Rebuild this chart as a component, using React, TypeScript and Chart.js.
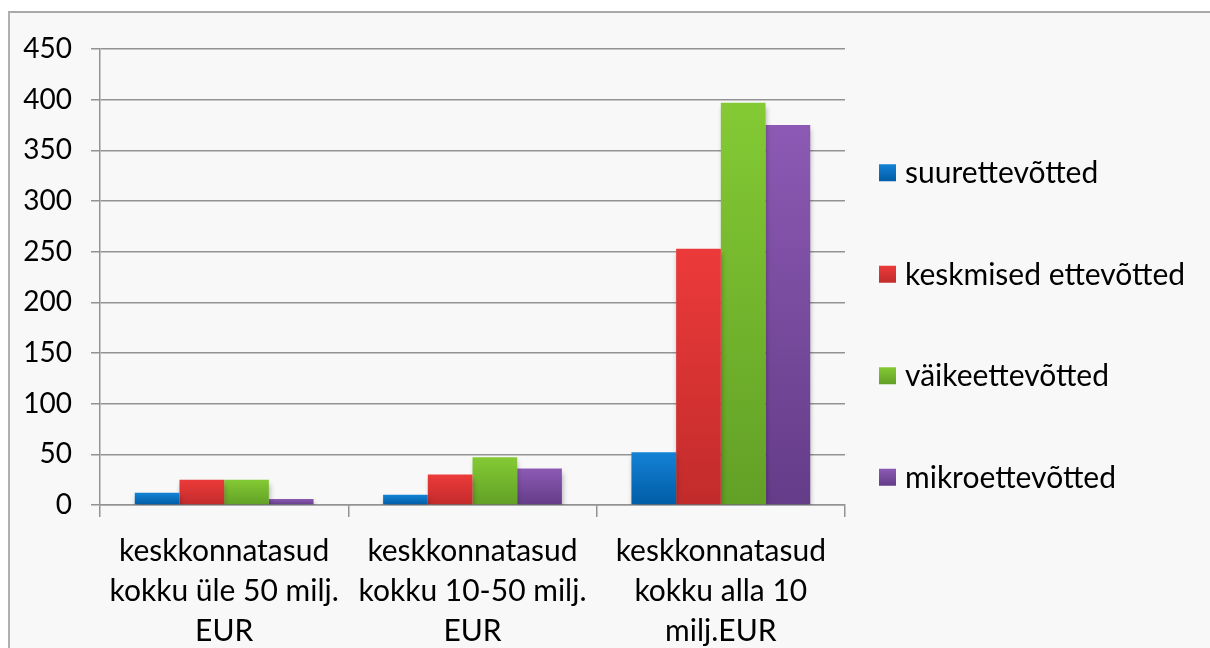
import React, { useEffect, useRef } from 'react';
import { Chart, registerables } from 'chart.js';

Chart.register(...registerables);

const categories: string[][] = [
  ['keskkonnatasud', 'kokku üle 50 milj.', 'EUR'],
  ['keskkonnatasud', 'kokku 10-50 milj.', 'EUR'],
  ['keskkonnatasud', 'kokku alla 10', 'milj.EUR'],
];

const seriesNames = ['suurettevõtted', 'keskmised ettevõtted', 'väikeettevõtted', 'mikroettevõtted'];

const suurettevotted = [12, 10, 52];
const keskmisedEttevotted = [25, 30, 253];
const vaikeettevotted = [25, 47, 397];
const mikroettevotted = [6, 36, 375];

const yMin = 0;
const yMax = 450;
const yStep = 50;

const topColors = ['#1482d4', '#ec3a3a', '#84ca34', '#8c5ab4'];
const bottomColors = ['#005ca6', '#c22b2b', '#62a026', '#643c88'];
const solidColors = ['#0a6fc0', '#de3333', '#76b82e', '#7c4ca2'];

const FONT = 'Lato, "Open Sans", "DejaVu Sans", sans-serif';

function barFill(i: number) {
  return (c: any) => {
    const chart = c.chart;
    const y = chart.scales && chart.scales.y;
    if (!chart.chartArea || !y || c.type !== 'data') return solidColors[i];
    const v = c.parsed ? c.parsed.y : c.raw;
    const y0 = y.getPixelForValue(0);
    const y1 = y.getPixelForValue(v);
    if (!isFinite(y0) || !isFinite(y1) || Math.abs(y0 - y1) < 1) return solidColors[i];
    const g = chart.ctx.createLinearGradient(0, y1, 0, y0);
    g.addColorStop(0, topColors[i]);
    g.addColorStop(1, bottomColors[i]);
    return g;
  };
}

const barShadow = {
  id: 'barShadow',
  beforeDatasetsDraw(chart: any) {
    const ctx = chart.ctx;
    ctx.save();
    ctx.shadowColor = 'rgba(0,0,0,0.28)';
    ctx.shadowBlur = 5;
    ctx.shadowOffsetX = 1;
    ctx.shadowOffsetY = 4;
  },
  afterDatasetsDraw(chart: any) {
    chart.ctx.restore();
  },
};

const sideLegend = {
  id: 'sideLegend',
  afterDraw(chart: any, _args: any, opts: any) {
    const { ctx, chartArea } = chart;
    const n = chart.data.datasets.length;
    const x = chartArea.right + opts.gap;
    const cy = (chartArea.top + chartArea.bottom) / 2 + opts.shift;
    ctx.save();
    ctx.font = `${opts.fontSize}px ${FONT}`;
    ctx.textBaseline = 'middle';
    ctx.textAlign = 'left';
    chart.data.datasets.forEach((ds: any, i: number) => {
      const y = cy + (i - (n - 1) / 2) * opts.spacing;
      const b = opts.box;
      const g = ctx.createLinearGradient(0, y - b / 2, 0, y + b / 2);
      g.addColorStop(0, topColors[i]);
      g.addColorStop(1, bottomColors[i]);
      ctx.fillStyle = g;
      ctx.fillRect(x, y - b / 2, b, b);
      ctx.fillStyle = '#000000';
      ctx.fillText(ds.label, x + b + opts.textGap, y + 1);
    });
    ctx.restore();
  },
};

export default function App() {
  const ref = useRef<HTMLCanvasElement | null>(null);

  useEffect(() => {
    if (!ref.current) return;
    const gridColor = '#939393';
    const seriesData = [suurettevotted, keskmisedEttevotted, vaikeettevotted, mikroettevotted];
    const chart = new Chart(ref.current, {
      type: 'bar',
      data: {
        labels: categories,
        datasets: seriesNames.map((name, i) => ({
          label: name,
          data: seriesData[i],
          backgroundColor: barFill(i),
          borderWidth: 0,
          categoryPercentage: 0.72,
          barPercentage: 1.0,
        })),
      },
      options: {
        animation: false,
        responsive: false,
        devicePixelRatio: 1,
        layout: { padding: { top: 36, right: 365, bottom: 0, left: 0 } },
        plugins: {
          legend: { display: false },
          tooltip: { enabled: false },
          sideLegend: { gap: 34, shift: 48, spacing: 101.5, box: 17, textGap: 9, fontSize: 30 },
        } as any,
        scales: {
          x: {
            offset: true,
            grid: {
              offset: true,
              drawOnChartArea: false,
              drawTicks: true,
              tickLength: 12,
              color: gridColor,
              lineWidth: 1.5,
            },
            border: { display: true, color: gridColor, width: 1.5 },
            ticks: {
              color: '#000000',
              padding: 14,
              font: { family: FONT, size: 30, lineHeight: 1.333 },
              maxRotation: 0,
              autoSkip: false,
            },
            afterFit: (scale: any) => {
              scale.height = 143;
            },
          },
          y: {
            min: yMin,
            max: yMax,
            grid: {
              color: gridColor,
              lineWidth: 1.5,
              drawTicks: true,
              tickLength: 9,
            },
            border: { display: true, color: gridColor, width: 1.5 },
            ticks: {
              stepSize: yStep,
              color: '#000000',
              padding: 19,
              font: { family: FONT, size: 28 },
            },
            afterFit: (scale: any) => {
              scale.width = 90;
            },
          },
        },
      },
      plugins: [barShadow, sideLegend],
    });
    return () => chart.destroy();
  }, []);

  return (
    <div
      style={{
        position: 'absolute',
        left: 8,
        top: 11,
        width: 1220,
        height: 660,
        borderTop: '2px solid #a9a9a9',
        borderLeft: '2px solid #b0b0b0',
        background: '#f8f8f8',
        boxSizing: 'border-box',
      }}
    >
      <canvas ref={ref} width={1200} height={635} style={{ display: 'block', width: 1200, height: 635 }} />
    </div>
  );
}
